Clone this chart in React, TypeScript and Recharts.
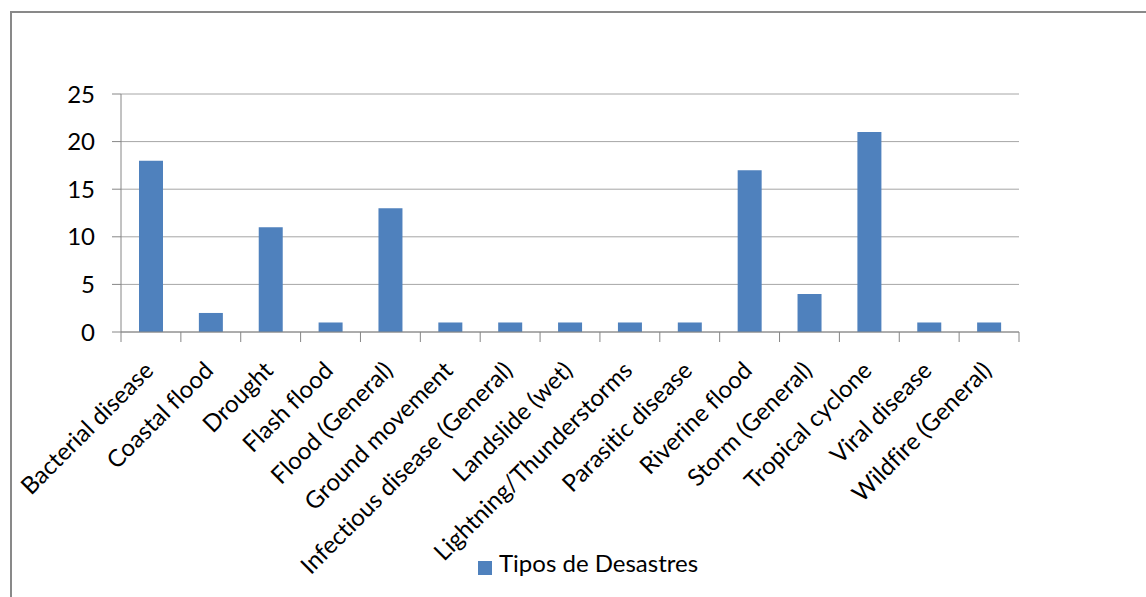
import React from 'react';
import { BarChart, Bar, XAxis, YAxis, CartesianGrid, Legend } from 'recharts';

// disaster types and how many events of each
const categories = [
  'Bacterial disease',
  'Coastal flood',
  'Drought',
  'Flash flood',
  'Flood (General)',
  'Ground movement',
  'Infectious disease (General)',
  'Landslide (wet)',
  'Lightning/Thunderstorms',
  'Parasitic disease',
  'Riverine flood',
  'Storm (General)',
  'Tropical cyclone',
  'Viral disease',
  'Wildfire (General)',
];
const counts = [18, 2, 11, 1, 13, 1, 1, 1, 1, 1, 17, 4, 21, 1, 1];
const yTicks = [0, 5, 10, 15, 20, 25];
// category boundaries, used only for the tick marks under the axis
const edgeTicks = [0, 1, 2, 3, 4, 5, 6, 7, 8, 9, 10, 11, 12, 13, 14, 15];

const data = categories.map((name, i) => ({ name, value: counts[i], slot: i }));

const FONT = 'Lato, "Open Sans", sans-serif';
const AXIS = '#868686';

function SlantedTick(props: any) {
  const { x, y, payload } = props;
  const px = x + 4;
  const py = y + 30;
  return (
    <text
      x={px}
      y={py}
      textAnchor="end"
      transform={`rotate(-45, ${px}, ${py})`}
      fontSize={24}
      fill="#000"
      fontFamily={FONT}
      style={{ fontVariantLigatures: 'none' }}
    >
      {payload.value}
    </text>
  );
}

// tick marks only, no text
const NoLabel = () => <g />;

export default function App() {
  return (
    <div style={{ position: 'absolute', left: 0, top: 0, width: 1146, height: 597, overflow: 'hidden', background: '#fff' }}>
      <div
        style={{
          position: 'absolute',
          left: 10,
          top: 11,
          width: 1136,
          height: 586,
          borderTop: '2px solid #898989',
          borderLeft: '2px solid #898989',
          boxSizing: 'border-box',
        }}
      />
      <div style={{ position: 'absolute', left: 0, top: 0 }}>
        <BarChart
          width={1146}
          height={597}
          data={data}
          margin={{ top: 94, right: 127, left: 0, bottom: 0 }}
          barSize={24}
          style={{ fontFamily: FONT }}
        >
          <CartesianGrid vertical={false} stroke="#a6a6a6" />
          {/* boundary tick marks sit right under the plot, the labels below them */}
          <XAxis
            dataKey="slot"
            type="number"
            domain={[0, edgeTicks.length - 1]}
            allowDataOverflow
            ticks={edgeTicks}
            interval={0}
            tick={NoLabel}
            tickSize={10}
            height={10}
            stroke={AXIS}
            axisLine={{ stroke: AXIS }}
            tickLine={{ stroke: AXIS }}
          />
          <XAxis
            xAxisId="cat"
            dataKey="name"
            interval={0}
            tickLine={false}
            axisLine={false}
            tickSize={0}
            tickMargin={0}
            height={255}
            tick={<SlantedTick />}
          />
          <YAxis
            width={121}
            domain={[0, 25]}
            ticks={yTicks}
            interval={0}
            tickSize={9}
            tickMargin={17}
            axisLine={{ stroke: AXIS }}
            tickLine={{ stroke: AXIS }}
            tick={{ fontSize: 24, fill: '#000', fontFamily: FONT }}
          />
          <Legend
            layout="horizontal"
            verticalAlign="middle"
            align="center"
            iconType="square"
            iconSize={14}
            wrapperStyle={{ left: 478, top: 548, width: 'auto' }}
            formatter={(value: string) => (
              <span style={{ color: '#000', fontSize: 24, fontFamily: FONT, paddingLeft: 3 }}>{value}</span>
            )}
          />
          <Bar xAxisId="cat" dataKey="value" name="Tipos de Desastres" fill="#4F81BD" isAnimationActive={false} />
        </BarChart>
      </div>
    </div>
  );
}
